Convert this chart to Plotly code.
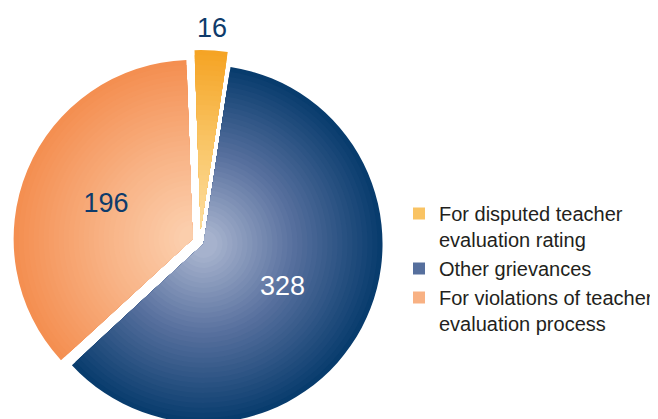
import math
import plotly.graph_objects as go

# ---------------------------------------------------------------- data
labels = ["For disputed teacher<br>evaluation rating",
          "Other grievances",
          "For violations of teacher<br>evaluation process"]
values = [16, 328, 196]
label_outside = [True, False, False]
text_col = ["#0e3b6b", "#ffffff", "#0e3b6b"]

# colour at centre / middle / rim of each slice (fake radial gradient)
col_in = [(253, 222, 160), (178, 188, 212), (252, 210, 178)]
col_mid = [(249, 196, 100), (88, 112, 158), (248, 178, 132)]
col_out = [(245, 163, 35), (6, 58, 108), (244, 142, 80)]

# ---------------------------------------------------------------- geometry (px)
# page has an 8px body margin, so the figure is a bit smaller than the window
W, H = 650, 440
cx, cy = 192, 234
R = 179
pull_px = [13, 4, 8]
rotation = -2
n_layers = 34


def mix(t):
    out = []
    for a, m, b in zip(col_in, col_mid, col_out):
        if t < 0.5:
            u = t / 0.5
            c = [a[k] + (m[k] - a[k]) * u for k in range(3)]
        else:
            u = (t - 0.5) / 0.5
            c = [m[k] + (b[k] - m[k]) * u for k in range(3)]
        out.append("rgb(%d,%d,%d)" % tuple(round(v) for v in c))
    return out


def domain(r):
    s = 2 * (r + max(pull_px))
    return dict(x=[max(0, (cx - s / 2) / W), (cx + s / 2) / W],
                y=[1 - (cy + s / 2) / H, 1 - (cy - s / 2) / H])


fig = go.Figure()

r_min = 14
for i in range(n_layers):
    r = R - i * (R - r_min) / (n_layers - 1)
    t = (r - 0.5 * (R - r_min) / (n_layers - 1)) / R
    fig.add_trace(go.Pie(
        labels=labels, values=values,
        sort=False, direction="clockwise", rotation=rotation,
        pull=[p / r for p in pull_px],
        domain=domain(r),
        marker=dict(colors=mix(max(t, 0)), line=dict(width=0)),
        textinfo="none", hoverinfo="skip",
        showlegend=(i == n_layers // 2),
    ))

# inside labels on a transparent top pie
fig.add_trace(go.Pie(
    labels=labels, values=values,
    sort=False, direction="clockwise", rotation=rotation,
    pull=[p / R for p in pull_px],
    domain=domain(R),
    marker=dict(colors=["rgba(0,0,0,0)"] * 3, line=dict(width=0)),
    text=["" if o else str(v) for v, o in zip(values, label_outside)],
    textinfo="text", textposition="inside",
    insidetextorientation="horizontal",
    textfont=dict(family="Liberation Sans, Arial, sans-serif",
                  size=27, color=text_col),
    showlegend=False,
))

# outside label centred above its slice
total = sum(values)
start = 0
for v, o, c, p in zip(values, label_outside, text_col, pull_px):
    mid = math.radians(rotation + 360 * (start + v / 2) / total)
    start += v
    if not o:
        continue
    d = R + p + 22
    fig.add_annotation(x=(cx + d * math.sin(mid)) / W,
                       y=1 - (cy - d * math.cos(mid)) / H,
                       xref="paper", yref="paper", showarrow=False,
                       xanchor="center", yanchor="middle",
                       text=str(v),
                       font=dict(family="Liberation Sans, Arial, sans-serif",
                                 size=27, color=c))

fig.update_layout(
    width=W, height=H,
    margin=dict(l=0, r=0, t=0, b=0, autoexpand=False),
    paper_bgcolor="white",
    legend=dict(x=1, y=1 - 186 / H, xanchor="right", yanchor="top",
                valign="top", traceorder="normal",
                font=dict(family="Liberation Sans, Arial, sans-serif",
                          size=20, color="#231f20")),
)

fig.write_html("out.html")
